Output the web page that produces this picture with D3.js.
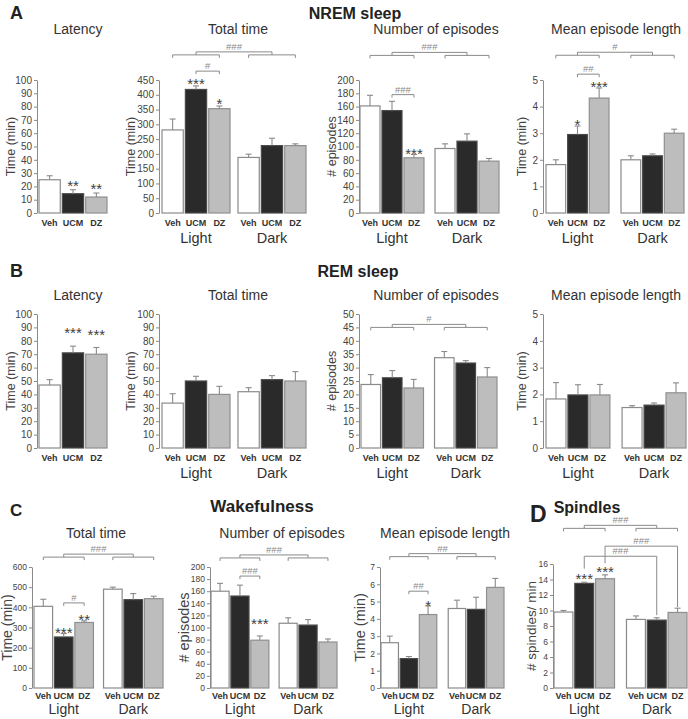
<!DOCTYPE html>
<html>
<head>
<meta charset="utf-8">
<script src="https://cdn.jsdelivr.net/npm/d3@7"></script>
<style>
body { margin: 0; background: #fff; }
</style>
</head>
<body>
<svg id="fig" width="688" height="719"></svg>
<script>
const drugs = ['Veh', 'UCM', 'DZ'];
const phases = ['Light', 'Dark'];

// order: Light Veh, UCM, DZ, Dark Veh, UCM, DZ  (Sem = height of error bar)
const nremLatency = [25, 14.5, 12];
const nremLatencySem = [3, 3, 3];
const nremLatencyStars = ['', '**', '**'];

const nremTotal = [281, 418, 353, 188, 228, 228];
const nremTotalSem = [37, 12, 9, 11, 25, 6];
const nremTotalStars = ['', '***', '*', '', '', ''];

const nremEpisodes = [161, 154, 83, 97, 108, 78];
const nremEpisodesSem = [16, 14, 5, 7, 11, 4];
const nremEpisodesStars = ['', '', '***', '', '', ''];

const nremLength = [1.82, 2.95, 4.32, 2.0, 2.15, 3.0];
const nremLengthSem = [0.18, 0.32, 0.38, 0.15, 0.07, 0.15];
const nremLengthStars = ['', '*', '***', '', '', ''];

const remLatency = [47, 71, 70];
const remLatencySem = [4, 5, 5];
const remLatencyStars = ['', '***', '***'];

const remTotal = [33.5, 50, 40, 42, 51, 50];
const remTotalSem = [7, 3.5, 6, 3, 3, 7];

const remEpisodes = [23.7, 26.2, 22.4, 33.7, 31.7, 26.5];
const remEpisodesSem = [3.7, 2.7, 3.2, 2.3, 0.9, 3.5];

const remLength = [1.83, 1.98, 1.98, 1.51, 1.6, 2.06];
const remLengthSem = [0.61, 0.38, 0.39, 0.07, 0.08, 0.37];

const wakeTotal = [405, 253, 325, 490, 438, 443];
const wakeTotalSem = [35, 17, 8, 10, 30, 12];
const wakeTotalStars = ['', '***', '**', '', '', ''];

const wakeEpisodes = [160, 152, 79, 107, 104, 76];
const wakeEpisodesSem = [13, 18, 7, 9, 9, 5];
const wakeEpisodesStars = ['', '', '***', '', '', ''];

const wakeLength = [2.62, 1.7, 4.25, 4.6, 4.55, 5.82];
const wakeLengthSem = [0.38, 0.12, 0.5, 0.48, 0.7, 0.52];
const wakeLengthStars = ['', '', '*', '', '', ''];

const spindles = [9.8, 13.5, 14.1, 8.85, 8.76, 9.75];
const spindlesSem = [0.2, 0.15, 0.5, 0.45, 0.3, 0.55];
const spindlesStars = ['', '***', '***', '', '', ''];

// significance: phase bracket [level, label], pair bracket [from, to, level, label]
const nremTotalSig = { phase: [535, '###'], pair: [1, 2, 480, '#'] };
const nremEpisodesSig = { phase: [237, '###'], pair: [1, 2, 178, '###'] };
const nremLengthSig = { phase: [5.93, '#'], pair: [1, 2, 5.22, '##'] };
const remEpisodesSig = { phase: [45, '#'] };
const wakeTotalSig = { phase: [649, '###'], pair: [1, 2, 422, '#'] };
const wakeEpisodesSig = { phase: [215, '###'], pair: [1, 2, 185, '###'] };
const wakeLengthSig = { phase: [7.6, '##'], pair: [1, 2, 5.6, '##'] };
// light -> dark links: [from, to, level, leftEnd, rightEnd, label]
const spindlesSig = { phase: [20.6, '###'], links: [[2, 5, 18.3, 16.1, 10.45, '###'], [1, 4, 17, 15.4, 9.4, '###']] };

const FONT = '"Liberation Sans", Arial, Helvetica, sans-serif';
const fills = { Veh: '#ffffff', UCM: '#2a2a2a', DZ: '#bdbdbd' };
const strokes = { Veh: '#8a8a8a', UCM: '#4a4a4a', DZ: '#8f8f8f' };
const lineCol = '#8a8a8a';

const svg = d3.select('#fig').attr('font-family', FONT);

function txt(x, y, s, size, opts = {}) {
    return svg.append('text')
        .attr('x', x).attr('y', y)
        .attr('text-anchor', opts.anchor || 'middle')
        .attr('font-size', size)
        .attr('font-weight', opts.bold ? 'bold' : 'normal')
        .attr('fill', opts.fill || '#333')
        .text(s);
}

function panel(p) {
    const g = svg.append('g');
    const y = d3.scaleLinear().domain([0, p.max]).range([p.bottom, p.top]);
    const groups = p.vals.length > 3 ? phases : ['one'];
    const outer = d3.scaleBand().domain(groups).range(p.span).paddingInner(p.gpad || 0);
    const inner = d3.scaleBand().domain(drugs).range([0, outer.bandwidth()]).paddingInner(0.09);
    const rows = p.vals.map((v, i) => ({
        v, e: p.sem[i], drug: drugs[i % 3], grp: groups[Math.floor(i / 3)],
        star: (p.stars || [])[i] || ''
    }));
    const bx = d => outer(d.grp) + inner(d.drug);
    const cx = i => bx(rows[i]) + inner.bandwidth() / 2;
    const lab1 = p.lab1 || 13, lab2 = p.lab2 || 30;

    const axis = d3.axisLeft(y)
        .tickValues(d3.range(0, p.max + p.step / 2, p.step))
        .tickFormat(d3.format('d'))
        .tickSize(3).tickSizeOuter(0).tickPadding(2);
    const ag = g.append('g').attr('transform', `translate(${p.axisX},0)`).call(axis)
        .attr('font-family', FONT).attr('font-size', p.tickFs || 10);
    ag.select('.domain').attr('stroke', lineCol);
    ag.selectAll('.tick line').attr('stroke', lineCol);
    ag.selectAll('.tick text').attr('fill', '#444');

    g.selectAll('rect.bar').data(rows).enter().append('rect')
        .attr('class', 'bar')
        .attr('x', bx)
        .attr('y', d => y(d.v))
        .attr('width', inner.bandwidth())
        .attr('height', d => p.bottom - y(d.v))
        .attr('fill', d => fills[d.drug])
        .attr('stroke', d => strokes[d.drug])
        .attr('stroke-width', 1.2);

    // error bars
    rows.forEach((d, i) => {
        const x = cx(i), y0 = y(d.v), y1 = y(d.v + d.e);
        g.append('line').attr('x1', x).attr('x2', x).attr('y1', y0).attr('y2', y1)
            .attr('stroke', lineCol).attr('stroke-width', 1.1);
        g.append('line').attr('x1', x - 3).attr('x2', x + 3).attr('y1', y1).attr('y2', y1)
            .attr('stroke', lineCol).attr('stroke-width', 1.1);
        if (d.star) {
            const fs = 15;
            g.append('text').attr('x', x).attr('y', y1 - p.lift + 0.6 * fs)
                .attr('text-anchor', 'middle').attr('font-size', fs).attr('fill', '#404040')
                .text(d.star);
        }
    });

    // labels under bars
    rows.forEach((d, i) => {
        g.append('text').attr('x', cx(i)).attr('y', p.bottom + lab1)
            .attr('text-anchor', 'middle').attr('font-size', 9).attr('font-weight', 'bold')
            .attr('fill', '#333').text(d.drug);
    });
    if (groups.length > 1) {
        groups.forEach(gr => {
            g.append('text').attr('x', outer(gr) + outer.bandwidth() / 2).attr('y', p.bottom + lab2)
                .attr('text-anchor', 'middle').attr('font-size', p.grpFs || 14.5).attr('fill', '#333').text(gr);
        });
    }

    if (p.title) txt(p.titleX, p.titleY, p.title, 14);
    g.append('text')
        .attr('transform', `translate(${p.ylabX},${(p.top + p.bottom) / 2}) rotate(-90)`)
        .attr('dy', '0.35em').attr('text-anchor', 'middle')
        .attr('font-size', p.ylabFs || 12.5).attr('fill', '#444').text(p.ylab);

    const sig = p.sig;
    if (!sig) return;
    const path = (pts) => g.append('path').attr('d', d3.line()(pts))
        .attr('fill', 'none').attr('stroke', lineCol).attr('stroke-width', 1);
    const hashes = (x, yy, s) => g.append('text').attr('x', x).attr('y', yy)
        .attr('text-anchor', 'middle').attr('font-size', 9.5).attr('fill', '#8a8a8a').text(s);
    if (sig.phase) {
        const yl = y(sig.phase[0]);
        const mids = [0, 3].map(k => {
            const a = cx(k), b = cx(k + 2);
            path([[a, yl + 3], [a, yl], [b, yl], [b, yl + 3]]);
            return (a + b) / 2;
        });
        path([[mids[0], yl], [mids[0], yl - 3], [mids[1], yl - 3], [mids[1], yl]]);
        hashes((mids[0] + mids[1]) / 2, yl - 5, sig.phase[1]);
    }
    if (sig.pair) {
        const [f, t, lv, lab] = sig.pair;
        const yl = y(lv), a = cx(f), b = cx(t);
        path([[a, yl + 3], [a, yl], [b, yl], [b, yl + 3]]);
        hashes((a + b) / 2, yl - 2, lab);
    }
    (sig.links || []).forEach(([f, t, lv, e1, e2, lab]) => {
        const a = cx(f), b = cx(t);
        path([[a, y(e1)], [a, y(lv)], [b, y(lv)], [b, y(e2)]]);
        hashes((a + b) / 2, y(lv) - 2, lab);
    });
}

// section headings
txt(10, 19, 'A', 18, { anchor: 'start', bold: true, fill: '#222' });
txt(355, 19, 'NREM sleep', 16, { bold: true, fill: '#222' });
txt(10, 277, 'B', 18, { anchor: 'start', bold: true, fill: '#222' });
txt(358, 277, 'REM sleep', 16, { bold: true, fill: '#222' });
txt(10, 516, 'C', 17, { anchor: 'start', bold: true, fill: '#222' });
txt(262, 512, 'Wakefulness', 17, { bold: true, fill: '#222' });
txt(530, 522, 'D', 23, { anchor: 'start', bold: true, fill: '#222' });
txt(587, 513, 'Spindles', 16, { bold: true, fill: '#222' });

// A: NREM
const rowA = { top: 80, bottom: 213, titleY: 34 };
panel({ ...rowA, vals: nremLatency, sem: nremLatencySem, stars: nremLatencyStars, lift: 8,
    max: 100, step: 10, axisX: 37, span: [39, 107], title: 'Latency', titleX: 78,
    ylab: 'Time (min)', ylabX: 11 });
panel({ ...rowA, vals: nremTotal, sem: nremTotalSem, stars: nremTotalStars, lift: 6, sig: nremTotalSig,
    max: 450, step: 50, axisX: 159, span: [162, 306], gpad: 0.105, title: 'Total time', titleX: 238,
    ylab: 'Time (min)', ylabX: 131 });
panel({ ...rowA, vals: nremEpisodes, sem: nremEpisodesSem, stars: nremEpisodesStars, lift: 4, sig: nremEpisodesSig,
    max: 200, step: 20, axisX: 359, span: [360, 499], gpad: 0.147, title: 'Number of episodes', titleX: 436,
    ylab: '# episodes', ylabX: 332 });
panel({ ...rowA, vals: nremLength, sem: nremLengthSem, stars: nremLengthStars, lift: 5, sig: nremLengthSig,
    max: 5, step: 1, axisX: 543, span: [546, 684], gpad: 0.16, title: 'Mean episode length', titleX: 616,
    ylab: 'Time (min)', ylabX: 522 });

// B: REM
const rowB = { top: 314, bottom: 448, titleY: 300 };
panel({ ...rowB, vals: remLatency, sem: remLatencySem, stars: remLatencyStars, lift: 17,
    max: 100, step: 10, axisX: 37, span: [39, 107], title: 'Latency', titleX: 78,
    ylab: 'Time (min)', ylabX: 11 });
panel({ ...rowB, vals: remTotal, sem: remTotalSem,
    max: 100, step: 10, axisX: 159, span: [162, 306], gpad: 0.105, title: 'Total time', titleX: 238,
    ylab: 'Time (min)', ylabX: 131 });
panel({ ...rowB, vals: remEpisodes, sem: remEpisodesSem, sig: remEpisodesSig,
    max: 50, step: 5, axisX: 359, span: [361, 497], gpad: 0.15, title: 'Number of episodes', titleX: 436,
    ylab: '# episodes', ylabX: 332 });
panel({ ...rowB, vals: remLength, sem: remLengthSem,
    max: 5, step: 1, axisX: 543, span: [546, 686], gpad: 0.16, title: 'Mean episode length', titleX: 616,
    ylab: 'Time (min)', ylabX: 522 });

// C: wakefulness, D: spindles
const rowC = { top: 567, bottom: 688, titleY: 538, tickFs: 8.5, lab1: 11, lab2: 26, grpFs: 14 };
panel({ ...rowC, vals: wakeTotal, sem: wakeTotalSem, stars: wakeTotalStars, lift: 5, sig: wakeTotalSig,
    max: 600, step: 100, axisX: 32, span: [34, 163], gpad: 0.145, title: 'Total time', titleX: 96,
    ylab: 'Time (min)', ylabX: 7, ylabFs: 14 });
panel({ ...rowC, vals: wakeEpisodes, sem: wakeEpisodesSem, stars: wakeEpisodesStars, lift: 16, sig: wakeEpisodesSig,
    max: 200, step: 20, axisX: 210, span: [211, 337], gpad: 0.15, title: 'Number of episodes', titleX: 282,
    ylab: '# episodes', ylabX: 184, ylabFs: 14.5 });
panel({ ...rowC, vals: wakeLength, sem: wakeLengthSem, stars: wakeLengthStars, lift: 4, sig: wakeLengthSig,
    max: 7, step: 1, axisX: 380, span: [381, 504], gpad: 0.17, title: 'Mean episode length', titleX: 445,
    ylab: 'Time (min)', ylabX: 360, ylabFs: 14.5 });
panel({ ...rowC, top: 564, vals: spindles, sem: spindlesSem, stars: spindlesStars, lift: 7, sig: spindlesSig,
    max: 16, step: 2, axisX: 553, span: [554, 687], gpad: 0.165, title: '', titleX: 0,
    ylab: '# spindles/ min', ylabX: 531, ylabFs: 13.5 });
</script>
</body>
</html>
